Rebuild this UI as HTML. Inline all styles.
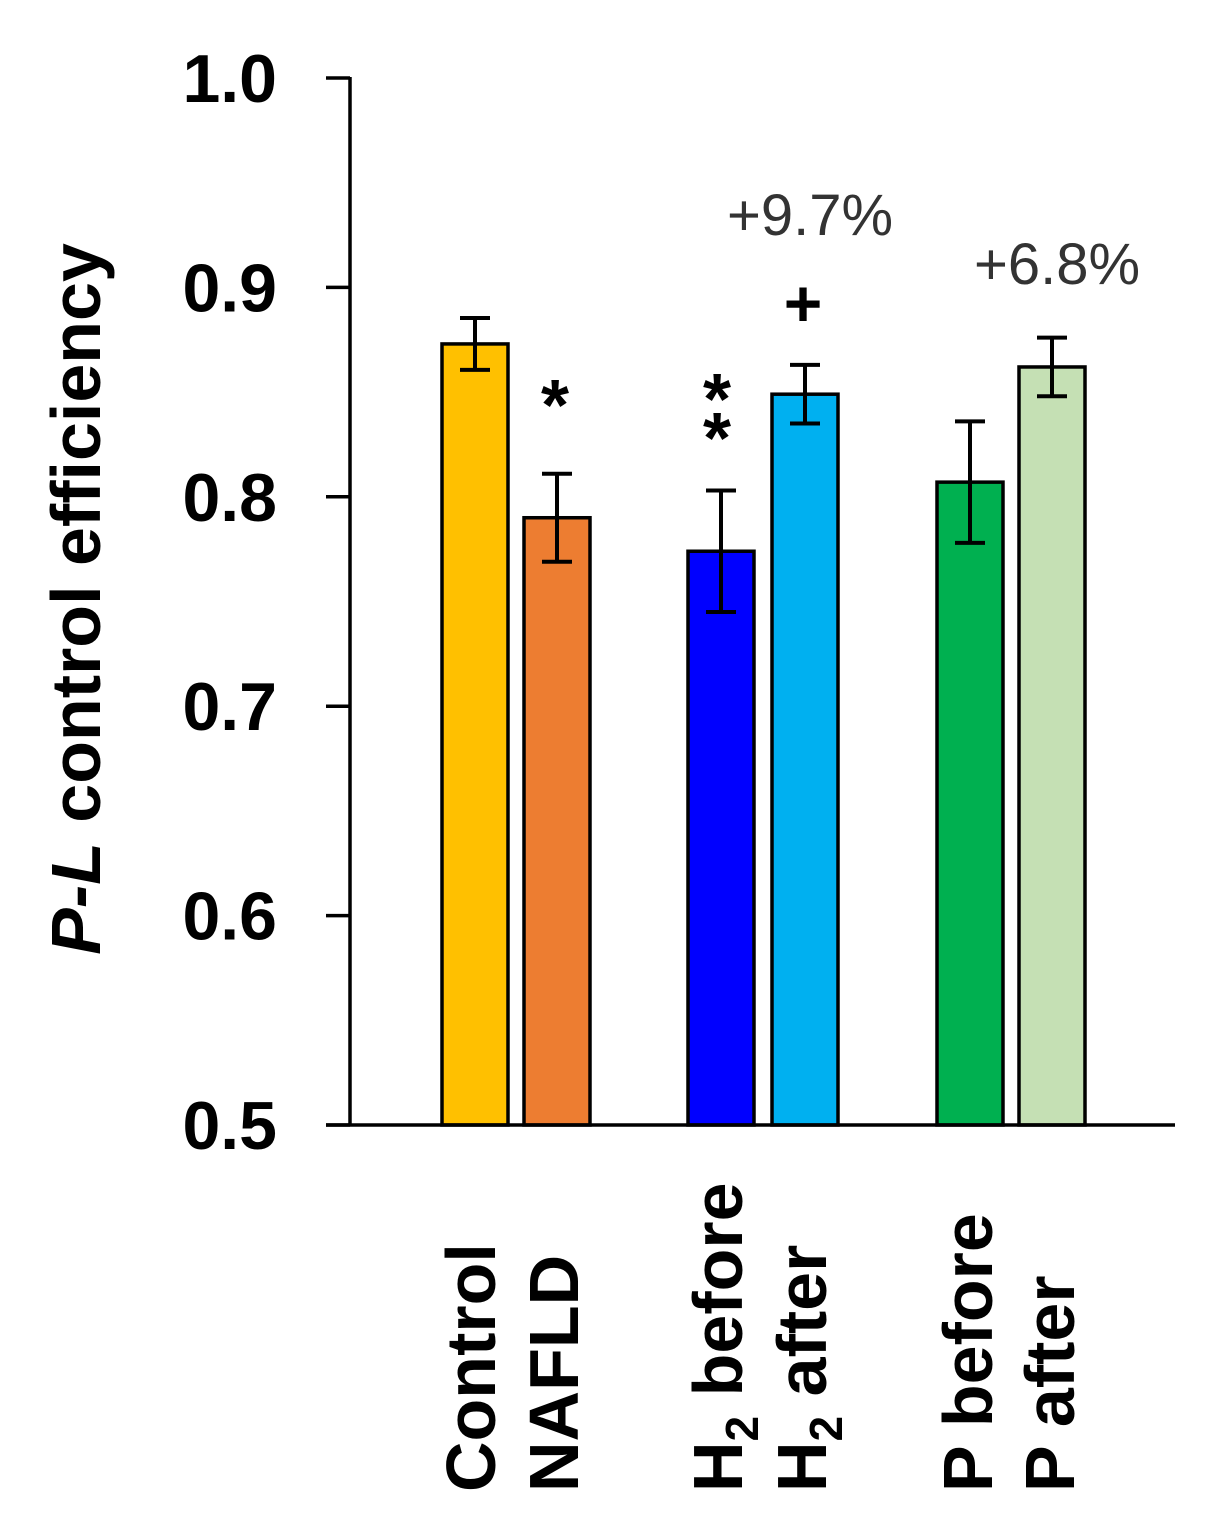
<!DOCTYPE html>
<html><head><meta charset="utf-8"><style>
html,body{margin:0;padding:0;background:#fff;}
svg{display:block;font-family:"Liberation Sans","DejaVu Sans",sans-serif;}
</style></head><body>
<svg id="chart" width="1209" height="1525" viewBox="0 0 1209 1525">
<g id="bars"></g>
<g id="axes"></g>
</svg>
<script>
const categories = ["Control", "NAFLD", "H2 before", "H2 after", "P before", "P after"];
const values = [0.873, 0.790, 0.774, 0.849, 0.807, 0.862];
const errors = [0.0124, 0.021, 0.029, 0.014, 0.029, 0.014];
const colors = ["#FFC000", "#ED7D31", "#0000FF", "#00B0F0", "#00B050", "#C5E0B4"];
const yTicks = [0.5, 0.6, 0.7, 0.8, 0.9, 1.0];
const yTickLabels = ["0.5", "0.6", "0.7", "0.8", "0.9", "1.0"];

const NS = "http://www.w3.org/2000/svg";
const y = v => 1125 - (v - 0.5) / 0.5 * 1047;
const centers = [475, 557, 721, 805, 970, 1052];
const x = i => centers[i];
const bw = 66;

function mk(tag, attrs, parent, text) {
  const e = document.createElementNS(NS, tag);
  for (const k in attrs) e.setAttribute(k, attrs[k]);
  if (text !== undefined) e.textContent = text;
  parent.appendChild(e);
  return e;
}
const bars = document.getElementById("bars");
const axes = document.getElementById("axes");

values.forEach((v, i) => {
  const r = mk("rect", {x: x(i) - bw / 2, y: y(v), width: bw, height: 1125 - y(v), fill: colors[i], stroke: "#000", "stroke-width": 3.5}, bars);
  
  
  const g = mk("g", {stroke: "#000", "stroke-width": 4}, bars);
  
  
  mk("line", {x1: x(i), x2: x(i), y1: y(v + errors[i]), y2: y(v - errors[i])}, g);
  mk("line", {x1: x(i) - 15, x2: x(i) + 15, y1: y(v + errors[i]), y2: y(v + errors[i])}, g);
  mk("line", {x1: x(i) - 15, x2: x(i) + 15, y1: y(v - errors[i]), y2: y(v - errors[i])}, g);
});

const ya = mk("line", {x1: 350, x2: 350, y1: 77, y2: 1126, stroke: "#000", "stroke-width": 3.5}, axes);


const xa = mk("line", {x1: 326, x2: 1175, y1: 1125, y2: 1125, stroke: "#000", "stroke-width": 3.5}, axes);


yTicks.forEach((t, i) => {
  const tk = mk("line", {x1: 326, x2: 350, y1: y(t), y2: y(t), stroke: "#000", "stroke-width": 3.5}, axes);
  
  
  const tl = mk("text", {x: 277, y: y(t) + 24, "text-anchor": "end", "font-size": 68, "font-weight": "bold"}, axes, yTickLabels[i]);
  
  
});

const yt = mk("text", {transform: "translate(100,599) rotate(-90)", "text-anchor": "middle", "font-size": 70, "font-weight": "bold"}, axes);


mk("tspan", {"font-style": "italic"}, yt, "P-L");
mk("tspan", {}, yt, " control efficiency");

const catX = [495, 578, 742, 826, 992, 1074];
categories.forEach((c, i) => {
  const t = mk("text", {transform: `translate(${catX[i]},1492) rotate(-90)`, "font-size": 70, "font-weight": "bold"}, axes);
  
  
  if (c.startsWith("H2")) {
    mk("tspan", {}, t, "H");
    mk("tspan", {"font-size": 46, dy: 16}, t, "2");
    mk("tspan", {dy: -16}, t, c.slice(2));
  } else t.textContent = c;
});

const ann = [
  [555, 430, "*", 72, "bold", "sig-nafld"],
  [717, 424, "*", 72, "bold", "sig-h2-before-1"],
  [717, 463, "*", 72, "bold", "sig-h2-before-2"],
  [803, 326, "+", 66, "bold", "sig-h2-after"],
  [810, 235, "+9.7%", 58, "normal", "pct-h2"],
  [1057, 284, "+6.8%", 58, "normal", "pct-p"]
];
ann.forEach(a => {
  const t = mk("text", {x: a[0], y: a[1], "text-anchor": "middle", "font-size": a[3], "font-weight": a[4], fill: a[4] === "normal" ? "#333" : "#000"}, axes, a[2]);
  
  
});
</script>
</body></html>
